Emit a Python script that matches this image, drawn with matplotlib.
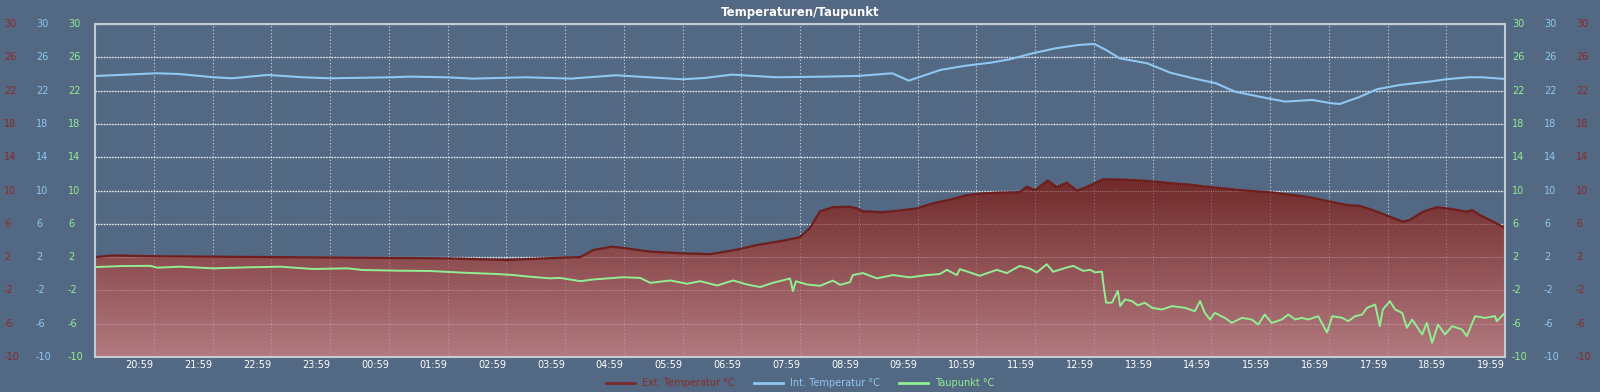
import numpy as np
import matplotlib
matplotlib.use('Agg')
import matplotlib.pyplot as plt
from matplotlib.patches import Polygon
from matplotlib.lines import Line2D
from matplotlib.transforms import blended_transform_factory
from matplotlib.colors import LinearSegmentedColormap

plt.rcParams['font.family'] = ['DejaVu Sans']

# time = hours after 19:59 (start of the 24h window)
ext_h = [0, 0.3, 1.0, 2.0, 3.0, 4.0, 5.0, 6.0, 7.0, 7.5, 8.0, 8.26, 8.48, 8.8, 8.99,
         9.45, 10.01, 10.47, 10.93, 11.27, 11.71, 12.0, 12.17, 12.34, 12.56, 12.85,
         12.97, 13.07, 13.41, 13.7, 13.99, 14.26, 14.55, 14.84, 15.11, 15.4, 15.74,
         15.86, 16.0, 16.22, 16.37, 16.54, 16.71, 16.89, 17.16, 17.5, 17.79, 18.08,
         18.35, 18.64, 18.93, 19.49, 20.05, 20.63, 20.9, 21.31, 21.53, 21.75, 22.04,
         22.26, 22.38, 22.6, 22.84, 23.06, 23.35, 23.44, 23.57, 23.8, 24.0]
ext_t = [2.0, 2.2, 2.1, 2.05, 2.0, 1.95, 1.9, 1.85, 1.65, 1.8, 1.95, 2.0, 2.85, 3.25, 3.1,
         2.65, 2.45, 2.35, 2.9, 3.45, 3.97, 4.4, 5.5, 7.5, 8.0, 8.05,
         7.85, 7.5, 7.4, 7.6, 7.85, 8.45, 8.9, 9.45, 9.65, 9.75, 9.8,
         10.45, 10.05, 11.2, 10.4, 10.95, 9.98, 10.45, 11.35, 11.3, 11.2, 11.05,
         10.85, 10.7, 10.45, 10.05, 9.75, 9.25, 8.85, 8.25, 8.15, 7.65, 6.85,
         6.25, 6.45, 7.45, 8.0, 7.8, 7.45, 7.65, 7.05, 6.25, 5.5]

int_h = [0, 1.04, 1.42, 2.02, 2.33, 2.94, 3.54, 4.0, 5.06, 5.37, 5.97, 6.43, 7.34, 8.1,
         8.86, 9.24, 10.0, 10.38, 10.84, 11.6, 12.44, 12.99, 13.57, 13.85, 14.39,
         14.79, 15.25, 15.57, 15.96, 16.35, 16.74, 17.01, 17.21, 17.44, 17.91, 18.3,
         18.69, 19.08, 19.4, 19.87, 20.26, 20.72, 21.04, 21.19, 21.51, 21.82, 22.21,
         22.76, 22.99, 23.38, 23.62, 24.0]
int_t = [23.75, 24.08, 24.0, 23.6, 23.48, 23.88, 23.6, 23.48, 23.6, 23.68, 23.6, 23.44, 23.6, 23.44,
         23.84, 23.68, 23.36, 23.52, 23.92, 23.6, 23.68, 23.76, 24.08, 23.2, 24.48,
         24.96, 25.36, 25.76, 26.48, 27.08, 27.48, 27.6, 26.88, 25.88, 25.28, 24.16,
         23.48, 22.88, 21.88, 21.2, 20.68, 20.88, 20.48, 20.4, 21.2, 22.16, 22.68,
         23.12, 23.36, 23.6, 23.6, 23.4]

dew_h = [0, 0.48, 0.94, 1.06, 1.45, 2.01, 2.59, 3.15, 3.71, 4.29, 4.56, 5.14, 5.7, 6.26,
         6.84, 7.11, 7.4, 7.74, 7.91, 8.26, 8.48, 8.99, 9.28, 9.45, 9.79, 10.08, 10.3,
         10.59, 10.86, 11.1, 11.32, 11.54, 11.83, 11.88, 11.93, 12.12, 12.34, 12.56,
         12.68, 12.85, 12.9, 13.07, 13.31, 13.58, 13.87, 14.16, 14.38, 14.5, 14.67,
         14.72, 14.89, 15.06, 15.35, 15.52, 15.74, 15.91, 16.03, 16.2, 16.31, 16.54,
         16.65, 16.82, 16.94, 17.02, 17.14, 17.16, 17.21, 17.31, 17.41, 17.45, 17.53,
         17.65, 17.75, 17.87, 17.99, 18.16, 18.33, 18.55, 18.72, 18.81, 18.89, 18.98,
         19.06, 19.23, 19.35, 19.52, 19.69, 19.8, 19.91, 20.03, 20.2, 20.31, 20.43,
         20.54, 20.65, 20.82, 20.97, 21.06, 21.23, 21.33, 21.45, 21.57, 21.65, 21.79,
         21.87, 21.92, 22.04, 22.13, 22.25, 22.33, 22.42, 22.59, 22.67, 22.76, 22.86,
         22.98, 23.1, 23.27, 23.35, 23.49, 23.66, 23.83, 23.86, 24.0]
dew_t = [0.8, 0.93, 0.95, 0.73, 0.85, 0.65, 0.77, 0.85, 0.57, 0.65, 0.45, 0.37, 0.33, 0.13,
         -0.03, -0.15, -0.35, -0.55, -0.5, -0.89, -0.69, -0.42, -0.5, -1.09, -0.81, -1.2, -0.89,
         -1.41, -0.81, -1.29, -1.6, -1.09, -0.57, -2.08, -0.9, -1.29, -1.45, -0.82,
         -1.33, -1.02, -0.16, 0.08, -0.55, -0.16, -0.43, -0.16, -0.04, 0.47, -0.16,
         0.55, 0.16, -0.24, 0.47, 0.08, 0.94, 0.63, 0.16, 1.14, 0.24, 0.75,
         0.94, 0.35, 0.47, 0.17, 0.25, -1.05, -3.48, -3.48, -2.06, -3.89, -3.08,
         -3.28, -3.8, -3.48, -4.09, -4.3, -3.89, -4.09, -4.5, -3.28, -4.7, -5.5,
         -4.7, -5.3, -5.9, -5.3, -5.5, -6.1, -4.9, -5.9, -5.5, -4.9, -5.5,
         -5.3, -5.5, -5.1, -7.05, -5.1, -5.3, -5.7, -5.1, -4.9, -4.1, -3.7,
         -6.3, -4.3, -3.3, -4.3, -4.7, -6.5, -5.5, -7.3, -5.9, -8.3, -6.1,
         -7.3, -6.3, -6.7, -7.5, -5.1, -5.3, -5.1, -5.7, -4.7]

hour_labels = ['20:59', '21:59', '22:59', '23:59', '00:59', '01:59', '02:59', '03:59',
               '04:59', '05:59', '06:59', '07:59', '08:59', '09:59', '10:59', '11:59',
               '12:59', '13:59', '14:59', '15:59', '16:59', '17:59', '18:59', '19:59']
temp_ticks = [30, 26, 22, 18, 14, 10, 6, 2, -2, -6, -10]
series_names = ['Ext. Temperatur °C', 'Int. Temperatur °C', 'Taupunkt °C']

bg = '#536882'
ext_col = '#6f1e1e'
ext_txt = '#8a2a2a'
int_col = '#8ec8f2'
dew_col = '#92ee92'

fig = plt.figure(figsize=(16, 3.92), dpi=100, facecolor=bg)
ax = fig.add_axes([95/1600, 35/392, 1410/1600, 333/392], facecolor=bg)

# filled area with vertical gradient, clipped to the outside temperature curve
verts = np.column_stack([np.r_[ext_h[0], ext_h, ext_h[-1]], np.r_[-10, ext_t, -10]])
poly = Polygon(verts, closed=True, facecolor='none', edgecolor='none')
ax.add_patch(poly)
cmap = LinearSegmentedColormap.from_list('ext', ['#6e2828', '#b27a80'])
grad = np.linspace(0, 1, 256).reshape(-1, 1)
im = ax.imshow(grad, cmap=cmap, extent=[0, 24, -10, 12], origin='upper',
               aspect='auto', zorder=1, interpolation='bilinear')
im.set_clip_path(poly)

ax.set_xlim(0, 24)
ax.set_ylim(-10, 30)

# grid: bright below the fill, faint on top of it
ax.set_axisbelow(True)
ax.set_yticks(temp_ticks)
ax.tick_params(axis='y', left=False, labelleft=False, length=0)
ax.set_xticks(range(1, 25))
ax.set_xticklabels(hour_labels, ha='right', color='white', fontsize=7)
ax.tick_params(axis='x', length=0, pad=2)
ax.grid(axis='y', color='white', ls=(0, (1, 1)), lw=1, alpha=0.9)
ax.grid(axis='x', color='white', ls=(0, (1, 2)), lw=0.8, alpha=0.6)
ax.hlines(temp_ticks[1:-1], 0, 24, colors='white', linestyles=[(0, (1, 1))], lw=0.8, alpha=0.3, zorder=2)
ax.vlines(range(1, 24), -10, 30, colors='white', linestyles=[(0, (1, 2))], lw=0.8, alpha=0.25, zorder=2)

ax.plot(ext_h, ext_t, color=ext_col, lw=1.6, zorder=3)
ax.plot(int_h, int_t, color=int_col, lw=1.5, zorder=4)
ax.plot(dew_h, dew_t, color=dew_col, lw=1.4, zorder=4)

for s in ax.spines.values():
    s.set_color('#c3ccd6')
    s.set_linewidth(1.5)
    s.set_zorder(5)

# three y scales on each side
trans = blended_transform_factory(fig.transFigure, ax.transData)
scales = [(4, ext_txt), (36, int_col), (68, dew_col), (1512, dew_col), (1544, int_col), (1576, ext_txt)]
for px, col in scales:
    for t in temp_ticks:
        ax.text(px / 1600, t, str(t), transform=trans, color=col, fontsize=7,
                ha='left', va='center', clip_on=False)

fig.text(0.5, 1 - 12.5/392, 'Temperaturen/Taupunkt', color='white', ha='center',
         va='center', fontsize=8.5, fontweight='bold')

handles = [Line2D([], [], color='#7a2a2a', lw=2),
           Line2D([], [], color=int_col, lw=2),
           Line2D([], [], color=dew_col, lw=2)]
fig.legend(handles, series_names, loc='center', bbox_to_anchor=(0.5, 1 - 383/392),
           ncol=3, frameon=False, fontsize=7, handlelength=3, handletextpad=0.7,
           columnspacing=2, labelcolor=[ext_txt, int_col, dew_col])

fig.savefig('out.png', dpi=100, facecolor=bg)
